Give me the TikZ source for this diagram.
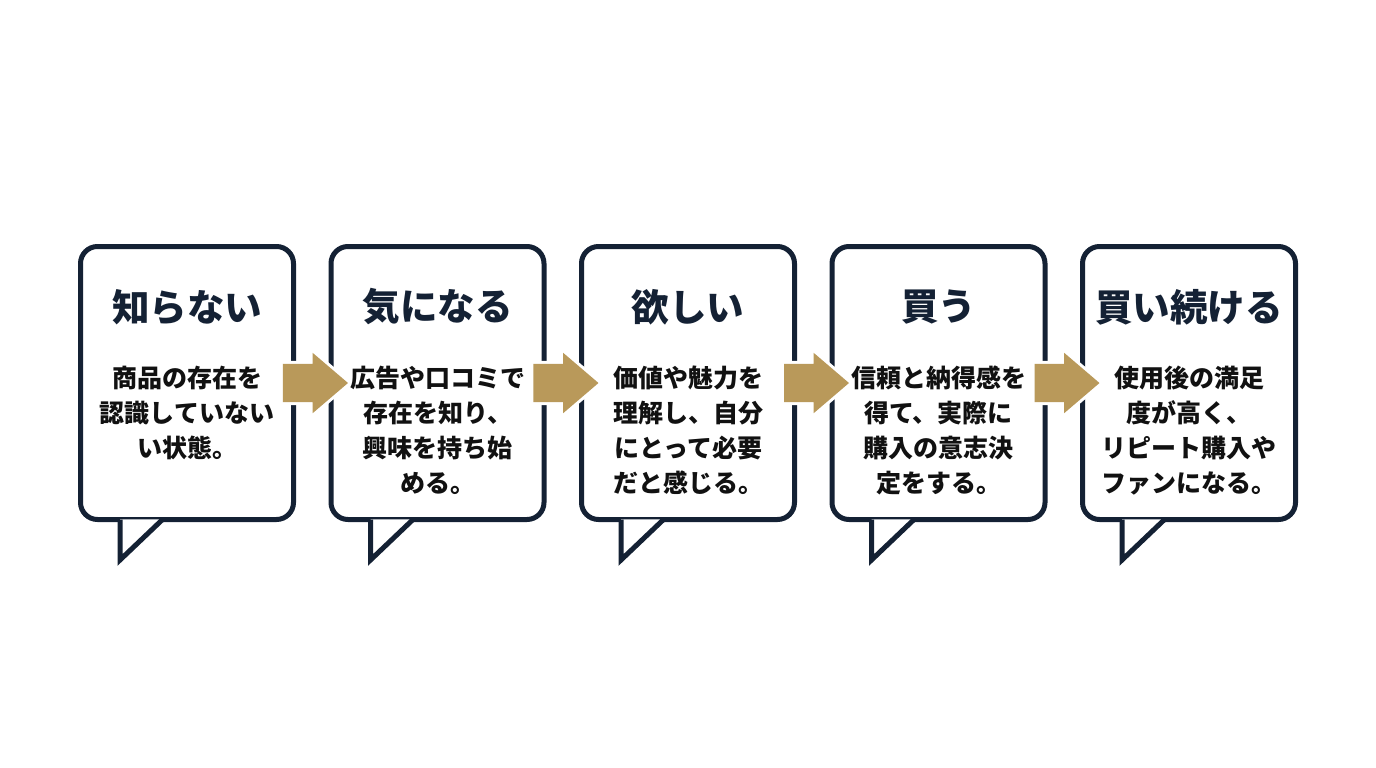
\documentclass[tikz,border=0pt]{standalone}
\usepackage{fontspec}
\setmainfont{Noto Sans CJK JP}
\usetikzlibrary{shapes.arrows,calc}
\definecolor{navyline}{RGB}{20,33,52}
\definecolor{goldarrow}{RGB}{185,153,90}
\definecolor{bodyink}{RGB}{17,17,17}

\begin{document}
\begin{tikzpicture}[x=1pt,y=1pt,yscale=-1,xscale=1,
    bubble/.style={draw=navyline,fill=white,line width=5pt,rounded corners=17pt,
        minimum width=213pt,minimum height=273pt,inner sep=0pt},
    tail/.style={draw=navyline,line width=5pt,line join=miter},
    flowarrow/.style={single arrow,fill=goldarrow,preaction={draw=white,line width=6pt},
        minimum height=65pt,single arrow head extend=11pt,single arrow tip angle=81,
        inner xsep=0pt,inner ysep=19pt},
    titletext/.style={font=\fontsize{37.5}{44}\selectfont\bfseries,text=navyline,inner sep=0pt},
    bodytext/.style={font=\fontsize{25}{35}\selectfont\bfseries,text=bodyink,align=center,
        anchor=north,inner sep=0pt}]
        \useasboundingbox (0,0) rectangle (1376,768);

        %Shape: Bubble 1
        \node [bubble] (b1) at (187,383) {};
        \fill [white] ([xshift=42pt,yshift=-2.6pt]b1.south west) -- ([xshift=42pt,yshift=38pt]b1.south west) -- ([xshift=83pt,yshift=-2.6pt]b1.south west) -- cycle ;
        \draw [tail] ([xshift=42pt,yshift=-2.5pt]b1.south west) -- ([xshift=42pt,yshift=38pt]b1.south west) -- ([xshift=84pt,yshift=-2pt]b1.south west) ;
        %Shape: Bubble 2
        \node [bubble] (b2) at (437.5,383) {};
        \fill [white] ([xshift=42pt,yshift=-2.6pt]b2.south west) -- ([xshift=42pt,yshift=38pt]b2.south west) -- ([xshift=83pt,yshift=-2.6pt]b2.south west) -- cycle ;
        \draw [tail] ([xshift=42pt,yshift=-2.5pt]b2.south west) -- ([xshift=42pt,yshift=38pt]b2.south west) -- ([xshift=84pt,yshift=-2pt]b2.south west) ;
        %Shape: Bubble 3
        \node [bubble] (b3) at (688,383) {};
        \fill [white] ([xshift=42pt,yshift=-2.6pt]b3.south west) -- ([xshift=42pt,yshift=38pt]b3.south west) -- ([xshift=83pt,yshift=-2.6pt]b3.south west) -- cycle ;
        \draw [tail] ([xshift=42pt,yshift=-2.5pt]b3.south west) -- ([xshift=42pt,yshift=38pt]b3.south west) -- ([xshift=84pt,yshift=-2pt]b3.south west) ;
        %Shape: Bubble 4
        \node [bubble] (b4) at (938.5,383) {};
        \fill [white] ([xshift=42pt,yshift=-2.6pt]b4.south west) -- ([xshift=42pt,yshift=38pt]b4.south west) -- ([xshift=83pt,yshift=-2.6pt]b4.south west) -- cycle ;
        \draw [tail] ([xshift=42pt,yshift=-2.5pt]b4.south west) -- ([xshift=42pt,yshift=38pt]b4.south west) -- ([xshift=84pt,yshift=-2pt]b4.south west) ;
        %Shape: Bubble 5
        \node [bubble] (b5) at (1189,383) {};
        \fill [white] ([xshift=42pt,yshift=-2.6pt]b5.south west) -- ([xshift=42pt,yshift=38pt]b5.south west) -- ([xshift=83pt,yshift=-2.6pt]b5.south west) -- cycle ;
        \draw [tail] ([xshift=42pt,yshift=-2.5pt]b5.south west) -- ([xshift=42pt,yshift=38pt]b5.south west) -- ([xshift=84pt,yshift=-2pt]b5.south west) ;

        %Shape: Arrows
        \node [flowarrow] (a12) at ($(b1.east)!0.5!(b2.west)+(-8,0)$) {};
        \node [flowarrow] (a23) at ($(b2.east)!0.5!(b3.west)+(-8,0)$) {};
        \node [flowarrow] (a34) at ($(b3.east)!0.5!(b4.west)+(-8,0)$) {};
        \node [flowarrow] (a45) at ($(b4.east)!0.5!(b5.west)+(-8,0)$) {};

        % Text Node
        \node [titletext] (t1) at (187,307) {知らない};
        \node [bodytext] (d1) at (187,366) {商品の存在を\\認識していない\\い状態。};
        % Text Node
        \node [titletext] (t2) at (437.5,307) {気になる};
        \node [bodytext] (d2) at (437.5,366) {広告や口コミで\\存在を知り、\\興味を持ち始\\める。};
        % Text Node
        \node [titletext] (t3) at (688,307) {欲しい};
        \node [bodytext] (d3) at (688,366) {価値や魅力を\\理解し、自分\\にとって必要\\だと感じる。};
        % Text Node
        \node [titletext] (t4) at (938.5,307) {買う};
        \node [bodytext] (d4) at (938.5,366) {信頼と納得感を\\得て、実際に\\購入の意志決\\定をする。};
        % Text Node
        \node [titletext] (t5) at (1189,307) {買い続ける};
        \node [bodytext] (d5) at (1189,366) {使用後の満足\\度が高く、\\リピート購入や\\ファンになる。};

\end{tikzpicture}
\end{document}
